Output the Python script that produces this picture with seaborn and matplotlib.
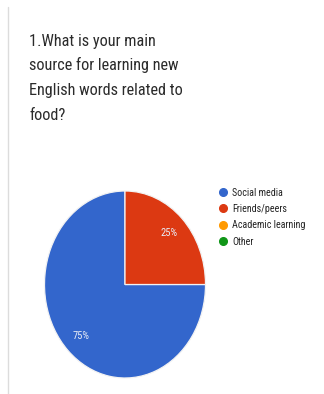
import matplotlib
matplotlib.use("Agg")
import matplotlib.pyplot as plt
from matplotlib.lines import Line2D
import seaborn as sns

# Survey responses
question = ["1.What is your main", "source for learning new",
            "English words related to", "food?"]
sources = ["Social media", "Friends/peers", "Academic learning", "Other"]
shares = [75, 25, 0, 0]

sns.set_theme(style="white")
plt.rcParams["font.family"] = ["Roboto Condensed", "Roboto", "DejaVu Sans"]

palette = sns.color_palette(["#3366cc", "#dc3912", "#ff9900", "#109618"])

W, H = 324, 394
fig = plt.figure(figsize=(W / 100, H / 100), dpi=100)
fig.patch.set_facecolor("white")

# card border on the left
fig.add_artist(Line2D([7.5 / W, 7.5 / W], [0, 1 - 7 / H], transform=fig.transFigure,
                      color="#dcdcdc", lw=1.0))

# question title
baselines = [45.7, 70.3, 95.0, 119.5]
for line, yb in zip(question, baselines):
    fig.text(29 / W, 1 - yb / H, line, fontsize=11.7, color="#2b2b2b",
             ha="left", va="baseline")

# pie (elliptical, stretched to the axes box)
left, right, top, bottom = 44.5, 205.5, 191, 378
ax = fig.add_axes([left / W, 1 - bottom / H, (right - left) / W, (bottom - top) / H])
drawn = [(s, c) for s, c in zip(shares, palette) if s > 0]
wedges, texts, autotexts = ax.pie(
    [s for s, _ in drawn], colors=[c for _, c in drawn], startangle=90,
    counterclock=True, autopct=lambda p: f"{p:.0f}%", pctdistance=0.78,
    wedgeprops=dict(edgecolor="#f2f2f2", linewidth=0.9),
    textprops=dict(color="#e8ecf6", fontsize=7.6))
ax.set_aspect("auto")
ax.set_xlim(-1, 1)
ax.set_ylim(-1, 1)
ax.axis("off")

# legend
handles = [Line2D([], [], marker="o", linestyle="", markersize=5.5,
                  markerfacecolor=c, markeredgecolor=c) for c in palette]
leg = fig.legend(handles, sources, loc="upper left",
                 bbox_to_anchor=(212 / W, 1 - 182.5 / H), frameon=False,
                 prop=dict(size=7.2), labelcolor="#222222",
                 handletextpad=0.3, labelspacing=0.64,
                 borderpad=0, handlelength=1.2)

fig.savefig("out.png", dpi=100, facecolor="white")
